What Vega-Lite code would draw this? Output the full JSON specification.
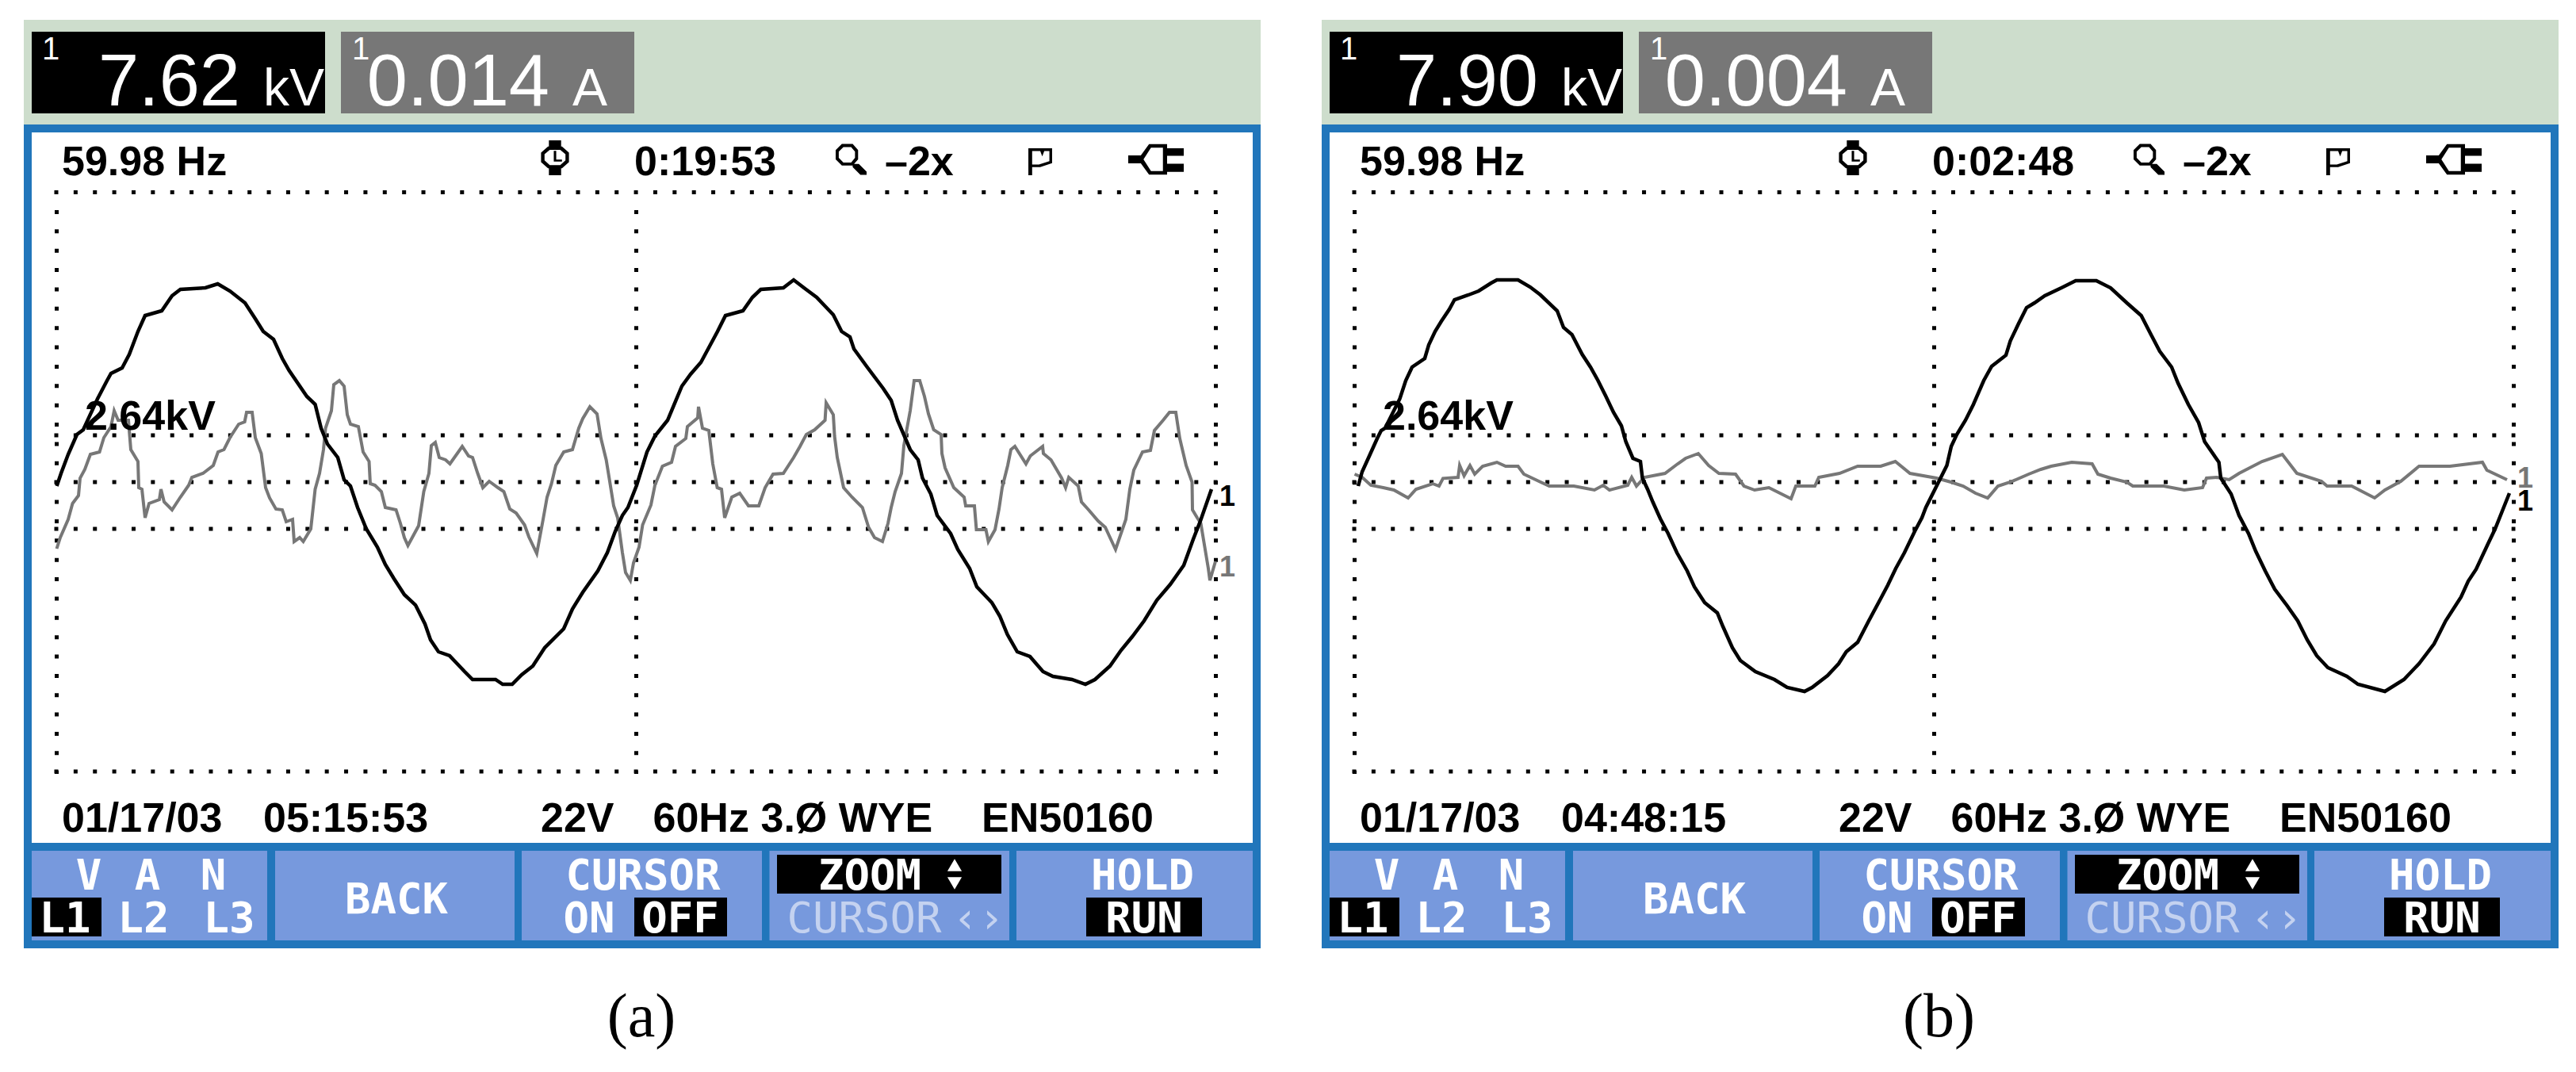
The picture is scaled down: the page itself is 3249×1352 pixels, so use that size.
{"$schema":"https://vega.github.io/schema/vega-lite/v6.json","padding":0,"background":"white","bounds":"flush","config":{"view":{"stroke":null}},
"data":{"values":[
{"panels":["a","b"],"k":"rect","part":"header","x":-41,"x1":1519,"y":583,"y1":451},
{"panels":["a","b"],"k":"rect","part":"frame","x":-41,"x1":1519,"y":451,"y1":-588},
{"panels":["a","b"],"k":"rect","part":"screen","x":-31,"x1":1509,"y":441,"y1":-455},
{"panels":["a","b"],"k":"rect","part":"black","x":-31,"x1":339,"y":568,"y1":465},
{"panels":["a","b"],"k":"rect","part":"gray","x":359,"x1":729,"y":568,"y1":465},
{"panels":["a","b"],"k":"rect","part":"button","x":-31,"x1":266,"y":-465,"y1":-578},
{"panels":["a","b"],"k":"rect","part":"button","x":276,"x1":578,"y":-465,"y1":-578},
{"panels":["a","b"],"k":"rect","part":"button","x":587,"x1":890,"y":-465,"y1":-578},
{"panels":["a","b"],"k":"rect","part":"button","x":899.5,"x1":1202,"y":-465,"y1":-578},
{"panels":["a","b"],"k":"rect","part":"button","x":1211,"x1":1509,"y":-465,"y1":-578},
{"panels":["a","b"],"k":"rect","part":"black","x":-31,"x1":57,"y":-524,"y1":-573},
{"panels":["a","b"],"k":"rect","part":"black","x":729,"x1":846,"y":-524,"y1":-573},
{"panels":["a","b"],"k":"rect","part":"black","x":1299,"x1":1445,"y":-524,"y1":-573},
{"panels":["a","b"],"k":"rect","part":"black","x":909,"x1":1192,"y":-470,"y1":-519},
{"panels":["a","b"],"k":"grid","x":-2.5,"x1":1464.5,"y":365.5,"y1":365.5},
{"panels":["a","b"],"k":"grid","x":-2.5,"x1":1464.5,"y":59,"y1":59},
{"panels":["a","b"],"k":"grid","x":-2.5,"x1":1464.5,"y":0,"y1":0},
{"panels":["a","b"],"k":"grid","x":-2.5,"x1":1464.5,"y":-59,"y1":-59},
{"panels":["a","b"],"k":"grid","x":-2.5,"x1":1464.5,"y":-365,"y1":-365},
{"panels":["a","b"],"k":"grid","x":0.5,"x1":0.5,"y":343,"y1":-368},
{"panels":["a","b"],"k":"grid","x":731.5,"x1":731.5,"y":343,"y1":-368},
{"panels":["a","b"],"k":"grid","x":1462.5,"x1":1462.5,"y":343,"y1":-368},
{"panels":["a","b"],"k":"status","x":7,"y":387,"t":"59.98 Hz"},
{"panels":["a"],"k":"status","x":729,"y":387,"t":"0:19:53"},
{"panels":["b"],"k":"status","x":729,"y":387,"t":"0:02:48"},
{"panels":["a","b"],"k":"status","x":1045,"y":387,"t":"–2x"},
{"panels":["a","b"],"k":"status","x":36,"y":66,"t":"2.64kV"},
{"panels":["a","b"],"k":"status","x":7,"y":-441,"t":"01/17/03"},
{"panels":["a"],"k":"status","x":261,"y":-441,"t":"05:15:53"},
{"panels":["b"],"k":"status","x":261,"y":-441,"t":"04:48:15"},
{"panels":["a","b"],"k":"status","x":611,"y":-441,"t":"22V"},
{"panels":["a","b"],"k":"status","x":752.5,"y":-441,"t":"60Hz"},
{"panels":["a","b"],"k":"status","x":888.5,"y":-441,"t":"3.Ø WYE"},
{"panels":["a","b"],"k":"status","x":1167,"y":-441,"t":"EN50160"},
{"panels":["a","b"],"k":"btn","x":41,"y":-514,"t":"V"},
{"panels":["a","b"],"k":"btn","x":115,"y":-514,"t":"A"},
{"panels":["a","b"],"k":"btn","x":198,"y":-514,"t":"N"},
{"panels":["a","b"],"k":"btn","x":11,"y":-568,"t":"L1"},
{"panels":["a","b"],"k":"btn","x":110,"y":-568,"t":"L2"},
{"panels":["a","b"],"k":"btn","x":218,"y":-568,"t":"L3"},
{"panels":["a","b"],"k":"btn","x":429,"y":-544,"t":"BACK"},
{"panels":["a","b"],"k":"btn","x":740,"y":-514,"t":"CURSOR"},
{"panels":["a","b"],"k":"btn","x":672,"y":-568,"t":"ON"},
{"panels":["a","b"],"k":"btn","x":787,"y":-568,"t":"OFF"},
{"panels":["a","b"],"k":"btn","x":1026,"y":-514,"t":"ZOOM"},
{"panels":["a","b"],"k":"btn","x":1370,"y":-514,"t":"HOLD"},
{"panels":["a","b"],"k":"btn","x":1372,"y":-568,"t":"RUN"},
{"panels":["a","b"],"k":"dim","x":1019,"y":-568,"t":"CURSOR"},
{"panels":["a","b"],"k":"dim","x":1163,"y":-568,"t":"‹›"},
{"panels":["a","b"],"k":"tri","sym":"up","x":1133,"y":-483},
{"panels":["a","b"],"k":"tri","sym":"down","x":1133,"y":-506},
{"panels":["a"],"k":"big","x":232,"y":475,"t":"7.62"},
{"panels":["b"],"k":"big","x":232,"y":475,"t":"7.90"},
{"panels":["a"],"k":"big","x":622,"y":475,"t":"0.014"},
{"panels":["b"],"k":"big","x":622,"y":475,"t":"0.004"},
{"panels":["a","b"],"k":"unit","x":261,"y":475,"t":"kV"},
{"panels":["a","b"],"k":"unit","x":651,"y":475,"t":"A"},
{"panels":["a","b"],"k":"idx","x":-7,"y":533,"t":"1"},
{"panels":["a","b"],"k":"idx","x":384,"y":533,"t":"1"},
{"panels":["a"],"k":"tagv","x":1477,"y":-30,"t":"1"},
{"panels":["b"],"k":"tagv","x":1477,"y":-36,"t":"1"},
{"panels":["a"],"k":"tagi","x":1477,"y":-119,"t":"1"},
{"panels":["b"],"k":"tagi","x":1477,"y":-7,"t":"1"},
{"panels":["a"],"k":"cap","x":738,"y":-699,"t":"(a)"},
{"panels":["b"],"k":"cap","x":737.5,"y":-699,"t":"(b)"},
{"panels":["a","b"],"k":"clock","x":629,"y":409},
{"panels":["a","b"],"k":"lens","x":1002.5,"y":407},
{"panels":["a","b"],"k":"flag","x":1241,"y":404},
{"panels":["a","b"],"k":"plug","x":1387,"y":407},
{"panels":["a"],"k":"v","x":0.6,"y":-5},{"panels":["a"],"k":"v","x":6,"y":11},{"panels":["a"],"k":"v","x":15,"y":35},{"panels":["a"],"k":"v","x":26,"y":60},{"panels":["a"],"k":"v","x":34,"y":66},{"panels":["a"],"k":"v","x":52,"y":105},{"panels":["a"],"k":"v","x":64,"y":128},{"panels":["a"],"k":"v","x":69,"y":137},{"panels":["a"],"k":"v","x":83,"y":144},{"panels":["a"],"k":"v","x":92,"y":161},{"panels":["a"],"k":"v","x":103,"y":190},{"panels":["a"],"k":"v","x":112,"y":210},{"panels":["a"],"k":"v","x":133,"y":216},{"panels":["a"],"k":"v","x":146,"y":235},{"panels":["a"],"k":"v","x":156.5,"y":243},{"panels":["a"],"k":"v","x":188,"y":245},{"panels":["a"],"k":"v","x":203.6,"y":250},{"panels":["a"],"k":"v","x":219,"y":241},{"panels":["a"],"k":"v","x":238,"y":226},{"panels":["a"],"k":"v","x":251,"y":206},{"panels":["a"],"k":"v","x":261,"y":190},{"panels":["a"],"k":"v","x":274,"y":180},{"panels":["a"],"k":"v","x":285,"y":156},{"panels":["a"],"k":"v","x":293.5,"y":141},{"panels":["a"],"k":"v","x":316,"y":108},{"panels":["a"],"k":"v","x":326.5,"y":98},{"panels":["a"],"k":"v","x":334,"y":68},{"panels":["a"],"k":"v","x":342,"y":48},{"panels":["a"],"k":"v","x":355,"y":31},{"panels":["a"],"k":"v","x":363,"y":3},{"panels":["a"],"k":"v","x":371,"y":-5},{"panels":["a"],"k":"v","x":380,"y":-32},{"panels":["a"],"k":"v","x":391,"y":-59},{"panels":["a"],"k":"v","x":405,"y":-82},{"panels":["a"],"k":"v","x":415,"y":-104},{"panels":["a"],"k":"v","x":426,"y":-122},{"panels":["a"],"k":"v","x":439,"y":-142},{"panels":["a"],"k":"v","x":453,"y":-155},{"panels":["a"],"k":"v","x":465,"y":-179},{"panels":["a"],"k":"v","x":472,"y":-199},{"panels":["a"],"k":"v","x":482,"y":-214},{"panels":["a"],"k":"v","x":496,"y":-219},{"panels":["a"],"k":"v","x":515,"y":-239},{"panels":["a"],"k":"v","x":525,"y":-249},{"panels":["a"],"k":"v","x":554,"y":-249},{"panels":["a"],"k":"v","x":563,"y":-255},{"panels":["a"],"k":"v","x":575,"y":-255},{"panels":["a"],"k":"v","x":587,"y":-243},{"panels":["a"],"k":"v","x":601,"y":-232},{"panels":["a"],"k":"v","x":616,"y":-209},{"panels":["a"],"k":"v","x":640,"y":-185},{"panels":["a"],"k":"v","x":651,"y":-160},{"panels":["a"],"k":"v","x":664,"y":-139},{"panels":["a"],"k":"v","x":683,"y":-112},{"panels":["a"],"k":"v","x":695,"y":-89},{"panels":["a"],"k":"v","x":705,"y":-62},{"panels":["a"],"k":"v","x":714,"y":-42},{"panels":["a"],"k":"v","x":721,"y":-32},{"panels":["a"],"k":"v","x":732,"y":-4},{"panels":["a"],"k":"v","x":745,"y":38},{"panels":["a"],"k":"v","x":755,"y":58},{"panels":["a"],"k":"v","x":771,"y":78},{"panels":["a"],"k":"v","x":789,"y":121},{"panels":["a"],"k":"v","x":800,"y":136},{"panels":["a"],"k":"v","x":813,"y":151},{"panels":["a"],"k":"v","x":834,"y":190},{"panels":["a"],"k":"v","x":844,"y":210},{"panels":["a"],"k":"v","x":866,"y":216},{"panels":["a"],"k":"v","x":878,"y":233},{"panels":["a"],"k":"v","x":888.5,"y":243},{"panels":["a"],"k":"v","x":917,"y":245},{"panels":["a"],"k":"v","x":930,"y":255},{"panels":["a"],"k":"v","x":943,"y":245},{"panels":["a"],"k":"v","x":959,"y":233},{"panels":["a"],"k":"v","x":980,"y":211},{"panels":["a"],"k":"v","x":990.5,"y":190},{"panels":["a"],"k":"v","x":1001,"y":183},{"panels":["a"],"k":"v","x":1006,"y":168},{"panels":["a"],"k":"v","x":1022,"y":146},{"panels":["a"],"k":"v","x":1043,"y":118},{"panels":["a"],"k":"v","x":1053,"y":103},{"panels":["a"],"k":"v","x":1061,"y":78},{"panels":["a"],"k":"v","x":1077,"y":41},{"panels":["a"],"k":"v","x":1087,"y":28},{"panels":["a"],"k":"v","x":1092.5,"y":5},{"panels":["a"],"k":"v","x":1103,"y":-15},{"panels":["a"],"k":"v","x":1111,"y":-42},{"panels":["a"],"k":"v","x":1128,"y":-65},{"panels":["a"],"k":"v","x":1137,"y":-85},{"panels":["a"],"k":"v","x":1152,"y":-109},{"panels":["a"],"k":"v","x":1161,"y":-132},{"panels":["a"],"k":"v","x":1180,"y":-152},{"panels":["a"],"k":"v","x":1190,"y":-169},{"panels":["a"],"k":"v","x":1199.5,"y":-192},{"panels":["a"],"k":"v","x":1212,"y":-214},{"panels":["a"],"k":"v","x":1228,"y":-220},{"panels":["a"],"k":"v","x":1244.5,"y":-239},{"panels":["a"],"k":"v","x":1257,"y":-245},{"panels":["a"],"k":"v","x":1281,"y":-249},{"panels":["a"],"k":"v","x":1298,"y":-255},{"panels":["a"],"k":"v","x":1310,"y":-249},{"panels":["a"],"k":"v","x":1329,"y":-232},{"panels":["a"],"k":"v","x":1343,"y":-212},{"panels":["a"],"k":"v","x":1357,"y":-195},{"panels":["a"],"k":"v","x":1372,"y":-175},{"panels":["a"],"k":"v","x":1388,"y":-149},{"panels":["a"],"k":"v","x":1405,"y":-129},{"panels":["a"],"k":"v","x":1422,"y":-105},{"panels":["a"],"k":"v","x":1434,"y":-72},{"panels":["a"],"k":"v","x":1443,"y":-49},{"panels":["a"],"k":"v","x":1457,"y":-9},
{"panels":["a"],"k":"i","x":0.5,"y":-84},{"panels":["a"],"k":"i","x":5,"y":-70},{"panels":["a"],"k":"i","x":15,"y":-47},{"panels":["a"],"k":"i","x":20.5,"y":-27},{"panels":["a"],"k":"i","x":28,"y":-17},{"panels":["a"],"k":"i","x":30,"y":5},{"panels":["a"],"k":"i","x":36,"y":16},{"panels":["a"],"k":"i","x":43,"y":35},{"panels":["a"],"k":"i","x":54.5,"y":38},{"panels":["a"],"k":"i","x":60,"y":56},{"panels":["a"],"k":"i","x":69,"y":70},{"panels":["a"],"k":"i","x":73,"y":90},{"panels":["a"],"k":"i","x":78,"y":78},{"panels":["a"],"k":"i","x":91,"y":78},{"panels":["a"],"k":"i","x":94,"y":41},{"panels":["a"],"k":"i","x":103,"y":26},{"panels":["a"],"k":"i","x":104,"y":-7},{"panels":["a"],"k":"i","x":108,"y":-9},{"panels":["a"],"k":"i","x":112,"y":-45},{"panels":["a"],"k":"i","x":117,"y":-27},{"panels":["a"],"k":"i","x":130,"y":-22},{"panels":["a"],"k":"i","x":132,"y":-9},{"panels":["a"],"k":"i","x":136,"y":-25},{"panels":["a"],"k":"i","x":146,"y":-35},{"panels":["a"],"k":"i","x":156.5,"y":-19},{"panels":["a"],"k":"i","x":167,"y":-4},{"panels":["a"],"k":"i","x":171,"y":6},{"panels":["a"],"k":"i","x":185,"y":11},{"panels":["a"],"k":"i","x":198,"y":21},{"panels":["a"],"k":"i","x":204,"y":38},{"panels":["a"],"k":"i","x":211.5,"y":41},{"panels":["a"],"k":"i","x":219,"y":56},{"panels":["a"],"k":"i","x":230,"y":73},{"panels":["a"],"k":"i","x":237.6,"y":76},{"panels":["a"],"k":"i","x":240,"y":88},{"panels":["a"],"k":"i","x":247,"y":88},{"panels":["a"],"k":"i","x":251,"y":56},{"panels":["a"],"k":"i","x":258.5,"y":36},{"panels":["a"],"k":"i","x":264,"y":-7},{"panels":["a"],"k":"i","x":269,"y":-20},{"panels":["a"],"k":"i","x":277,"y":-34},{"panels":["a"],"k":"i","x":285,"y":-35},{"panels":["a"],"k":"i","x":290,"y":-50},{"panels":["a"],"k":"i","x":298,"y":-47},{"panels":["a"],"k":"i","x":300,"y":-75},{"panels":["a"],"k":"i","x":307,"y":-70},{"panels":["a"],"k":"i","x":311.5,"y":-75},{"panels":["a"],"k":"i","x":321,"y":-59},{"panels":["a"],"k":"i","x":326.5,"y":-9},{"panels":["a"],"k":"i","x":332,"y":11},{"panels":["a"],"k":"i","x":337,"y":41},{"panels":["a"],"k":"i","x":339.6,"y":68},{"panels":["a"],"k":"i","x":347,"y":90},{"panels":["a"],"k":"i","x":350,"y":123},{"panels":["a"],"k":"i","x":357,"y":128},{"panels":["a"],"k":"i","x":363,"y":121},{"panels":["a"],"k":"i","x":367,"y":85},{"panels":["a"],"k":"i","x":371,"y":73},{"panels":["a"],"k":"i","x":381,"y":70},{"panels":["a"],"k":"i","x":387,"y":38},{"panels":["a"],"k":"i","x":394.5,"y":26},{"panels":["a"],"k":"i","x":396,"y":-2},{"panels":["a"],"k":"i","x":402,"y":-4},{"panels":["a"],"k":"i","x":410,"y":-12},{"panels":["a"],"k":"i","x":415,"y":-32},{"panels":["a"],"k":"i","x":428.5,"y":-35},{"panels":["a"],"k":"i","x":434,"y":-52},{"panels":["a"],"k":"i","x":439,"y":-70},{"panels":["a"],"k":"i","x":443.5,"y":-80},{"panels":["a"],"k":"i","x":457,"y":-55},{"panels":["a"],"k":"i","x":463.5,"y":-12},{"panels":["a"],"k":"i","x":470,"y":11},{"panels":["a"],"k":"i","x":473,"y":46},{"panels":["a"],"k":"i","x":478,"y":50},{"panels":["a"],"k":"i","x":483,"y":31},{"panels":["a"],"k":"i","x":491,"y":28},{"panels":["a"],"k":"i","x":496.5,"y":23},{"panels":["a"],"k":"i","x":512,"y":45},{"panels":["a"],"k":"i","x":520,"y":33},{"panels":["a"],"k":"i","x":525,"y":31},{"panels":["a"],"k":"i","x":531.5,"y":11},{"panels":["a"],"k":"i","x":538,"y":-7},{"panels":["a"],"k":"i","x":546,"y":1},{"panels":["a"],"k":"i","x":557,"y":-7},{"panels":["a"],"k":"i","x":564.5,"y":-12},{"panels":["a"],"k":"i","x":572,"y":-34},{"panels":["a"],"k":"i","x":580,"y":-39},{"panels":["a"],"k":"i","x":590.6,"y":-54},{"panels":["a"],"k":"i","x":596,"y":-69},{"panels":["a"],"k":"i","x":606,"y":-90},{"panels":["a"],"k":"i","x":614,"y":-47},{"panels":["a"],"k":"i","x":619,"y":-19},{"panels":["a"],"k":"i","x":624.6,"y":-2},{"panels":["a"],"k":"i","x":630,"y":21},{"panels":["a"],"k":"i","x":640,"y":38},{"panels":["a"],"k":"i","x":651,"y":41},{"panels":["a"],"k":"i","x":659,"y":68},{"panels":["a"],"k":"i","x":664,"y":80},{"panels":["a"],"k":"i","x":673,"y":95},{"panels":["a"],"k":"i","x":682,"y":86},{"panels":["a"],"k":"i","x":687,"y":55},{"panels":["a"],"k":"i","x":693.6,"y":28},{"panels":["a"],"k":"i","x":698,"y":1},{"panels":["a"],"k":"i","x":703,"y":-30},{"panels":["a"],"k":"i","x":708,"y":-45},{"panels":["a"],"k":"i","x":714,"y":-89},{"panels":["a"],"k":"i","x":718,"y":-114},{"panels":["a"],"k":"i","x":724,"y":-124},{"panels":["a"],"k":"i","x":728,"y":-102},{"panels":["a"],"k":"i","x":735,"y":-82},{"panels":["a"],"k":"i","x":739.5,"y":-54},{"panels":["a"],"k":"i","x":750,"y":-29},{"panels":["a"],"k":"i","x":755,"y":-4},{"panels":["a"],"k":"i","x":764.5,"y":20},{"panels":["a"],"k":"i","x":776,"y":25},{"panels":["a"],"k":"i","x":781,"y":45},{"panels":["a"],"k":"i","x":794,"y":55},{"panels":["a"],"k":"i","x":796,"y":70},{"panels":["a"],"k":"i","x":809,"y":81},{"panels":["a"],"k":"i","x":810,"y":95},{"panels":["a"],"k":"i","x":815,"y":68},{"panels":["a"],"k":"i","x":823,"y":65},{"panels":["a"],"k":"i","x":828,"y":23},{"panels":["a"],"k":"i","x":833.6,"y":-7},{"panels":["a"],"k":"i","x":839,"y":-9},{"panels":["a"],"k":"i","x":843,"y":-45},{"panels":["a"],"k":"i","x":852,"y":-19},{"panels":["a"],"k":"i","x":862,"y":-14},{"panels":["a"],"k":"i","x":873,"y":-30},{"panels":["a"],"k":"i","x":886,"y":-30},{"panels":["a"],"k":"i","x":894,"y":-7},{"panels":["a"],"k":"i","x":904,"y":10},{"panels":["a"],"k":"i","x":917,"y":11},{"panels":["a"],"k":"i","x":930,"y":31},{"panels":["a"],"k":"i","x":938,"y":45},{"panels":["a"],"k":"i","x":946,"y":60},{"panels":["a"],"k":"i","x":956.5,"y":66},{"panels":["a"],"k":"i","x":969.6,"y":78},{"panels":["a"],"k":"i","x":971,"y":100},{"panels":["a"],"k":"i","x":980,"y":85},{"panels":["a"],"k":"i","x":981.6,"y":58},{"panels":["a"],"k":"i","x":985,"y":31},{"panels":["a"],"k":"i","x":993,"y":-7},{"panels":["a"],"k":"i","x":1003.6,"y":-19},{"panels":["a"],"k":"i","x":1016.7,"y":-32},{"panels":["a"],"k":"i","x":1024.5,"y":-57},{"panels":["a"],"k":"i","x":1032,"y":-70},{"panels":["a"],"k":"i","x":1042,"y":-75},{"panels":["a"],"k":"i","x":1049,"y":-52},{"panels":["a"],"k":"i","x":1053,"y":-32},{"panels":["a"],"k":"i","x":1058,"y":-12},{"panels":["a"],"k":"i","x":1066,"y":11},{"panels":["a"],"k":"i","x":1069,"y":46},{"panels":["a"],"k":"i","x":1077,"y":90},{"panels":["a"],"k":"i","x":1082,"y":128},{"panels":["a"],"k":"i","x":1089,"y":128},{"panels":["a"],"k":"i","x":1095,"y":108},{"panels":["a"],"k":"i","x":1100,"y":86},{"panels":["a"],"k":"i","x":1106.6,"y":66},{"panels":["a"],"k":"i","x":1116,"y":60},{"panels":["a"],"k":"i","x":1117,"y":36},{"panels":["a"],"k":"i","x":1121,"y":18},{"panels":["a"],"k":"i","x":1132,"y":-7},{"panels":["a"],"k":"i","x":1145,"y":-19},{"panels":["a"],"k":"i","x":1147,"y":-30},{"panels":["a"],"k":"i","x":1158,"y":-30},{"panels":["a"],"k":"i","x":1160.5,"y":-60},{"panels":["a"],"k":"i","x":1172.5,"y":-60},{"panels":["a"],"k":"i","x":1175.6,"y":-75},{"panels":["a"],"k":"i","x":1184,"y":-60},{"panels":["a"],"k":"i","x":1189,"y":-34},{"panels":["a"],"k":"i","x":1193,"y":-7},{"panels":["a"],"k":"i","x":1200,"y":21},{"panels":["a"],"k":"i","x":1204,"y":41},{"panels":["a"],"k":"i","x":1209,"y":45},{"panels":["a"],"k":"i","x":1223,"y":23},{"panels":["a"],"k":"i","x":1228.5,"y":33},{"panels":["a"],"k":"i","x":1244,"y":45},{"panels":["a"],"k":"i","x":1245,"y":36},{"panels":["a"],"k":"i","x":1254.6,"y":28},{"panels":["a"],"k":"i","x":1268,"y":5},{"panels":["a"],"k":"i","x":1273,"y":-7},{"panels":["a"],"k":"i","x":1277,"y":6},{"panels":["a"],"k":"i","x":1289,"y":-5},{"panels":["a"],"k":"i","x":1293,"y":-25},{"panels":["a"],"k":"i","x":1302,"y":-35},{"panels":["a"],"k":"i","x":1314,"y":-49},{"panels":["a"],"k":"i","x":1323,"y":-57},{"panels":["a"],"k":"i","x":1336,"y":-85},{"panels":["a"],"k":"i","x":1349,"y":-47},{"panels":["a"],"k":"i","x":1354,"y":-9},{"panels":["a"],"k":"i","x":1359,"y":15},{"panels":["a"],"k":"i","x":1370,"y":38},{"panels":["a"],"k":"i","x":1380,"y":40},{"panels":["a"],"k":"i","x":1385,"y":65},{"panels":["a"],"k":"i","x":1396,"y":78},{"panels":["a"],"k":"i","x":1404,"y":88},{"panels":["a"],"k":"i","x":1412,"y":88},{"panels":["a"],"k":"i","x":1417,"y":55},{"panels":["a"],"k":"i","x":1425,"y":21},{"panels":["a"],"k":"i","x":1432.5,"y":0},{"panels":["a"],"k":"i","x":1433,"y":-35},{"panels":["a"],"k":"i","x":1439,"y":-45},{"panels":["a"],"k":"i","x":1443.5,"y":-52},{"panels":["a"],"k":"i","x":1453,"y":-109},{"panels":["a"],"k":"i","x":1455,"y":-124},{"panels":["a"],"k":"i","x":1462,"y":-100},
{"panels":["b"],"k":"v","x":5,"y":-5},{"panels":["b"],"k":"v","x":10,"y":13},{"panels":["b"],"k":"v","x":20,"y":35},{"panels":["b"],"k":"v","x":29,"y":55},{"panels":["b"],"k":"v","x":34,"y":65},{"panels":["b"],"k":"v","x":39,"y":68},{"panels":["b"],"k":"v","x":57.5,"y":105},{"panels":["b"],"k":"v","x":65,"y":128},{"panels":["b"],"k":"v","x":73,"y":145},{"panels":["b"],"k":"v","x":89,"y":156},{"panels":["b"],"k":"v","x":94,"y":173},{"panels":["b"],"k":"v","x":102,"y":190},{"panels":["b"],"k":"v","x":110,"y":203},{"panels":["b"],"k":"v","x":120,"y":218},{"panels":["b"],"k":"v","x":126.5,"y":230},{"panels":["b"],"k":"v","x":144,"y":236},{"panels":["b"],"k":"v","x":157,"y":241},{"panels":["b"],"k":"v","x":172.6,"y":251},{"panels":["b"],"k":"v","x":180,"y":255},{"panels":["b"],"k":"v","x":206.6,"y":255},{"panels":["b"],"k":"v","x":222,"y":246},{"panels":["b"],"k":"v","x":235,"y":236},{"panels":["b"],"k":"v","x":256,"y":216},{"panels":["b"],"k":"v","x":264,"y":195},{"panels":["b"],"k":"v","x":274.6,"y":186},{"panels":["b"],"k":"v","x":287.6,"y":161},{"panels":["b"],"k":"v","x":298,"y":145},{"panels":["b"],"k":"v","x":307.5,"y":128},{"panels":["b"],"k":"v","x":317.5,"y":108},{"panels":["b"],"k":"v","x":327,"y":88},{"panels":["b"],"k":"v","x":337,"y":71},{"panels":["b"],"k":"v","x":342.6,"y":51},{"panels":["b"],"k":"v","x":351.5,"y":30},{"panels":["b"],"k":"v","x":361,"y":26},{"panels":["b"],"k":"v","x":363.5,"y":5},{"panels":["b"],"k":"v","x":370,"y":-9},{"panels":["b"],"k":"v","x":376.6,"y":-25},{"panels":["b"],"k":"v","x":386,"y":-46},{"panels":["b"],"k":"v","x":396,"y":-65},{"panels":["b"],"k":"v","x":407,"y":-89},{"panels":["b"],"k":"v","x":420,"y":-112},{"panels":["b"],"k":"v","x":429,"y":-132},{"panels":["b"],"k":"v","x":442,"y":-152},{"panels":["b"],"k":"v","x":458,"y":-165},{"panels":["b"],"k":"v","x":465,"y":-182},{"panels":["b"],"k":"v","x":477,"y":-209},{"panels":["b"],"k":"v","x":487,"y":-225},{"panels":["b"],"k":"v","x":506,"y":-239},{"panels":["b"],"k":"v","x":530,"y":-249},{"panels":["b"],"k":"v","x":546,"y":-259},{"panels":["b"],"k":"v","x":568,"y":-264},{"panels":["b"],"k":"v","x":577.5,"y":-259},{"panels":["b"],"k":"v","x":597,"y":-244},{"panels":["b"],"k":"v","x":611,"y":-229},{"panels":["b"],"k":"v","x":620.6,"y":-214},{"panels":["b"],"k":"v","x":635,"y":-202},{"panels":["b"],"k":"v","x":649,"y":-175},{"panels":["b"],"k":"v","x":664,"y":-147},{"panels":["b"],"k":"v","x":673,"y":-130},{"panels":["b"],"k":"v","x":683,"y":-109},{"panels":["b"],"k":"v","x":694,"y":-89},{"panels":["b"],"k":"v","x":707,"y":-62},{"panels":["b"],"k":"v","x":716,"y":-45},{"panels":["b"],"k":"v","x":721,"y":-32},{"panels":["b"],"k":"v","x":735,"y":-4},{"panels":["b"],"k":"v","x":747.5,"y":21},{"panels":["b"],"k":"v","x":753,"y":45},{"panels":["b"],"k":"v","x":760,"y":60},{"panels":["b"],"k":"v","x":771,"y":78},{"panels":["b"],"k":"v","x":781,"y":98},{"panels":["b"],"k":"v","x":794,"y":128},{"panels":["b"],"k":"v","x":804,"y":146},{"panels":["b"],"k":"v","x":822,"y":160},{"panels":["b"],"k":"v","x":827.5,"y":178},{"panels":["b"],"k":"v","x":838,"y":200},{"panels":["b"],"k":"v","x":848,"y":220},{"panels":["b"],"k":"v","x":858,"y":226},{"panels":["b"],"k":"v","x":871,"y":235},{"panels":["b"],"k":"v","x":892,"y":245},{"panels":["b"],"k":"v","x":910,"y":254},{"panels":["b"],"k":"v","x":936,"y":254},{"panels":["b"],"k":"v","x":954,"y":245},{"panels":["b"],"k":"v","x":974.5,"y":226},{"panels":["b"],"k":"v","x":992.6,"y":210},{"panels":["b"],"k":"v","x":1005.5,"y":185},{"panels":["b"],"k":"v","x":1016,"y":165},{"panels":["b"],"k":"v","x":1031,"y":145},{"panels":["b"],"k":"v","x":1039,"y":125},{"panels":["b"],"k":"v","x":1052,"y":98},{"panels":["b"],"k":"v","x":1065,"y":75},{"panels":["b"],"k":"v","x":1072.6,"y":51},{"panels":["b"],"k":"v","x":1090.6,"y":25},{"panels":["b"],"k":"v","x":1093,"y":5},{"panels":["b"],"k":"v","x":1106,"y":-15},{"panels":["b"],"k":"v","x":1116,"y":-42},{"panels":["b"],"k":"v","x":1128,"y":-65},{"panels":["b"],"k":"v","x":1137,"y":-87},{"panels":["b"],"k":"v","x":1149,"y":-112},{"panels":["b"],"k":"v","x":1161,"y":-135},{"panels":["b"],"k":"v","x":1176,"y":-155},{"panels":["b"],"k":"v","x":1190,"y":-175},{"panels":["b"],"k":"v","x":1202,"y":-199},{"panels":["b"],"k":"v","x":1214,"y":-219},{"panels":["b"],"k":"v","x":1228,"y":-234},{"panels":["b"],"k":"v","x":1252,"y":-245},{"panels":["b"],"k":"v","x":1266,"y":-255},{"panels":["b"],"k":"v","x":1300,"y":-264},{"panels":["b"],"k":"v","x":1324,"y":-249},{"panels":["b"],"k":"v","x":1343,"y":-229},{"panels":["b"],"k":"v","x":1362,"y":-204},{"panels":["b"],"k":"v","x":1376.6,"y":-175},{"panels":["b"],"k":"v","x":1396,"y":-145},{"panels":["b"],"k":"v","x":1405,"y":-125},{"panels":["b"],"k":"v","x":1415,"y":-110},{"panels":["b"],"k":"v","x":1429,"y":-80},{"panels":["b"],"k":"v","x":1439,"y":-59},{"panels":["b"],"k":"v","x":1449,"y":-34},{"panels":["b"],"k":"v","x":1457,"y":-14},
{"panels":["b"],"k":"i","x":0.5,"y":10},{"panels":["b"],"k":"i","x":10,"y":6},{"panels":["b"],"k":"i","x":21,"y":-4},{"panels":["b"],"k":"i","x":36.6,"y":-7},{"panels":["b"],"k":"i","x":50,"y":-10},{"panels":["b"],"k":"i","x":68,"y":-20},{"panels":["b"],"k":"i","x":78,"y":-9},{"panels":["b"],"k":"i","x":99,"y":-2},{"panels":["b"],"k":"i","x":107,"y":-5},{"panels":["b"],"k":"i","x":112,"y":4.7},{"panels":["b"],"k":"i","x":131,"y":6},{"panels":["b"],"k":"i","x":133,"y":21},{"panels":["b"],"k":"i","x":138.6,"y":8},{"panels":["b"],"k":"i","x":146,"y":21},{"panels":["b"],"k":"i","x":152,"y":10},{"panels":["b"],"k":"i","x":162,"y":20},{"panels":["b"],"k":"i","x":180,"y":25},{"panels":["b"],"k":"i","x":191,"y":20},{"panels":["b"],"k":"i","x":206.6,"y":20},{"panels":["b"],"k":"i","x":214,"y":10},{"panels":["b"],"k":"i","x":233,"y":1},{"panels":["b"],"k":"i","x":246,"y":-5},{"panels":["b"],"k":"i","x":277,"y":-5},{"panels":["b"],"k":"i","x":303,"y":-10},{"panels":["b"],"k":"i","x":314,"y":-4},{"panels":["b"],"k":"i","x":322,"y":-10},{"panels":["b"],"k":"i","x":345,"y":-4},{"panels":["b"],"k":"i","x":350,"y":6},{"panels":["b"],"k":"i","x":356,"y":-5},{"panels":["b"],"k":"i","x":366,"y":6},{"panels":["b"],"k":"i","x":392,"y":11},{"panels":["b"],"k":"i","x":408,"y":23},{"panels":["b"],"k":"i","x":418,"y":30},{"panels":["b"],"k":"i","x":434,"y":36},{"panels":["b"],"k":"i","x":447,"y":21},{"panels":["b"],"k":"i","x":460,"y":11},{"panels":["b"],"k":"i","x":481,"y":10},{"panels":["b"],"k":"i","x":491.6,"y":-5},{"panels":["b"],"k":"i","x":505,"y":-10},{"panels":["b"],"k":"i","x":523,"y":-7},{"panels":["b"],"k":"i","x":551,"y":-21},{"panels":["b"],"k":"i","x":557,"y":-5},{"panels":["b"],"k":"i","x":581,"y":-5},{"panels":["b"],"k":"i","x":586,"y":6},{"panels":["b"],"k":"i","x":612,"y":11},{"panels":["b"],"k":"i","x":635,"y":20},{"panels":["b"],"k":"i","x":664,"y":20},{"panels":["b"],"k":"i","x":682.5,"y":26},{"panels":["b"],"k":"i","x":701,"y":11},{"panels":["b"],"k":"i","x":734.6,"y":5},{"panels":["b"],"k":"i","x":752.6,"y":0},{"panels":["b"],"k":"i","x":768,"y":-5},{"panels":["b"],"k":"i","x":783.6,"y":-14},{"panels":["b"],"k":"i","x":799,"y":-20},{"panels":["b"],"k":"i","x":812,"y":-5},{"panels":["b"],"k":"i","x":827.5,"y":0},{"panels":["b"],"k":"i","x":850.7,"y":10},{"panels":["b"],"k":"i","x":866,"y":16},{"panels":["b"],"k":"i","x":879,"y":20},{"panels":["b"],"k":"i","x":905,"y":25},{"panels":["b"],"k":"i","x":930.7,"y":23},{"panels":["b"],"k":"i","x":938,"y":10},{"panels":["b"],"k":"i","x":954,"y":5},{"panels":["b"],"k":"i","x":974.5,"y":0},{"panels":["b"],"k":"i","x":982,"y":-5},{"panels":["b"],"k":"i","x":1021,"y":-5},{"panels":["b"],"k":"i","x":1047,"y":-10},{"panels":["b"],"k":"i","x":1070,"y":-7},{"panels":["b"],"k":"i","x":1075,"y":5},{"panels":["b"],"k":"i","x":1088,"y":6},{"panels":["b"],"k":"i","x":1103.5,"y":3},{"panels":["b"],"k":"i","x":1116,"y":11},{"panels":["b"],"k":"i","x":1145,"y":26},{"panels":["b"],"k":"i","x":1170.6,"y":35},{"panels":["b"],"k":"i","x":1189,"y":11},{"panels":["b"],"k":"i","x":1220,"y":1},{"panels":["b"],"k":"i","x":1227,"y":-5},{"panels":["b"],"k":"i","x":1258,"y":-5},{"panels":["b"],"k":"i","x":1287,"y":-20},{"panels":["b"],"k":"i","x":1300,"y":-10},{"panels":["b"],"k":"i","x":1320,"y":1},{"panels":["b"],"k":"i","x":1343,"y":20},{"panels":["b"],"k":"i","x":1382,"y":20},{"panels":["b"],"k":"i","x":1423,"y":25},{"panels":["b"],"k":"i","x":1428.6,"y":15},{"panels":["b"],"k":"i","x":1454,"y":3}
]},
"transform":[{"flatten":["panels"],"as":["panel"]}],
"facet":{"column":{"field":"panel","type":"nominal","header":null}},
"spacing":25,
"spec":{"width":1612,"height":1352,
"encoding":{"x":{"field":"x","type":"quantitative","scale":{"domain":[-71,1541],"nice":false,"zero":false},"axis":null},"y":{"field":"y","type":"quantitative","scale":{"domain":[-744,608],"nice":false,"zero":false},"axis":null}},
"layer":[
{"transform":[{"filter":"datum.k=='rect'"}],"mark":{"type":"rect","stroke":null},"encoding":{"x2":{"field":"x1"},"y2":{"field":"y1"},"color":{"field":"part","type":"nominal","legend":null,"scale":{"domain":["header","frame","screen","black","gray","button"],"range":["#CDDDCC","#2176BB","#FFFFFF","#000000","#777777","#7799DD"]}}}},
{"transform":[{"filter":"datum.k=='grid'"}],"mark":{"type":"rule","color":"#000000","strokeWidth":5,"strokeDash":[5,19.37]},"encoding":{"x2":{"field":"x1"},"y2":{"field":"y1"}}},
{"transform":[{"filter":"datum.k=='i'"}],"mark":{"type":"line","color":"#777777","strokeWidth":4,"strokeJoin":"miter"},"encoding":{}},
{"transform":[{"filter":"datum.k=='v'"}],"mark":{"type":"line","color":"#000000","strokeWidth":4.5,"strokeJoin":"miter"},"encoding":{}},
{"transform":[{"filter":"datum.k=='status'"}],"mark":{"type":"text","font":"Liberation Sans","fontWeight":"bold","fontSize":52,"align":"left","baseline":"alphabetic","color":"#000000"},"encoding":{"text":{"field":"t"}}},
{"transform":[{"filter":"datum.k=='btn'"}],"mark":{"type":"text","font":"DejaVu Sans Mono","fontWeight":"bold","fontSize":54,"align":"center","baseline":"alphabetic","color":"#FFFFFF"},"encoding":{"text":{"field":"t"}}},
{"transform":[{"filter":"datum.k=='dim'"}],"mark":{"type":"text","font":"DejaVu Sans Mono","fontSize":54,"align":"center","baseline":"alphabetic","color":"#C4D2F0"},"encoding":{"text":{"field":"t"}}},
{"transform":[{"filter":"datum.k=='tri'"}],"mark":{"type":"point","filled":true,"size":330,"color":"#FFFFFF","opacity":1},"encoding":{"shape":{"field":"sym","type":"nominal","legend":null,"scale":{"domain":["up","down"],"range":["triangle-up","triangle-down"]}}}},
{"transform":[{"filter":"datum.k=='big'"}],"mark":{"type":"text","font":"Liberation Sans","fontSize":92,"align":"right","baseline":"alphabetic","color":"#FFFFFF"},"encoding":{"text":{"field":"t"}}},
{"transform":[{"filter":"datum.k=='unit'"}],"mark":{"type":"text","font":"Liberation Sans","fontSize":66,"align":"left","baseline":"alphabetic","color":"#FFFFFF"},"encoding":{"text":{"field":"t"}}},
{"transform":[{"filter":"datum.k=='idx'"}],"mark":{"type":"text","font":"Liberation Sans","fontSize":40,"align":"center","baseline":"alphabetic","color":"#FFFFFF"},"encoding":{"text":{"field":"t"}}},
{"transform":[{"filter":"datum.k=='tagv'"}],"mark":{"type":"text","font":"Liberation Sans","fontWeight":"bold","fontSize":36,"align":"center","baseline":"alphabetic","color":"#000000"},"encoding":{"text":{"field":"t"}}},
{"transform":[{"filter":"datum.k=='tagi'"}],"mark":{"type":"text","font":"Liberation Sans","fontWeight":"bold","fontSize":36,"align":"center","baseline":"alphabetic","color":"#777777"},"encoding":{"text":{"field":"t"}}},
{"transform":[{"filter":"datum.k=='cap'"}],"mark":{"type":"text","font":"Liberation Serif","fontSize":78,"align":"center","baseline":"alphabetic","color":"#000000"},"encoding":{"text":{"field":"t"}}},
{"transform":[{"filter":"datum.k=='clock'"}],"mark":{"type":"point","filled":true,"opacity":1,"color":"#000000","size":1936,"shape":"M-0.35 -1H0.35V-0.6H-0.35ZM-0.35 0.55H0.35V1H-0.35ZM-0.8 -0.3L-0.4 -0.65L0.4 -0.65L0.8 -0.3L0.8 0.25L0.4 0.6L-0.4 0.6L-0.8 0.25ZM-0.6 -0.2L-0.6 0.15L-0.3 0.42L0.3 0.42L0.6 0.15L0.6 -0.2L0.3 -0.45L-0.3 -0.45ZM-0.07 -0.4H0.07V0.1H0.4V0.22H-0.07Z"},"encoding":{}},
{"transform":[{"filter":"datum.k=='lens'"}],"mark":{"type":"point","filled":true,"opacity":1,"color":"#000000","size":1521,"shape":"M-0.6 -1L0.1 -1L0.45 -0.6L0.45 0L0.1 0.4L-0.6 0.4L-1 0L-1 -0.6ZM-0.5 -0.8L-0.8 -0.5L-0.8 -0.1L-0.5 0.2L0 0.2L0.25 -0.1L0.25 -0.5L0 -0.8ZM0.1 0.3L0.5 0.3L1 0.8L1 1L0.6 1L0.1 0.5Z"},"encoding":{}},
{"transform":[{"filter":"datum.k=='flag'"}],"mark":{"type":"point","filled":true,"opacity":1,"color":"#000000","size":1156,"shape":"M-0.88 -1H-0.6V1H-0.88ZM-0.6 -1H0.88V0.1L0 0.4H-0.6V0.2H-0.1L0.68 -0.05V-0.8H-0.6ZM0 -0.8H0.3L0.15 -0.4Z"},"encoding":{}},
{"transform":[{"filter":"datum.k=='plug'"}],"mark":{"type":"point","filled":true,"opacity":1,"color":"#000000","size":4900,"shape":"M-1 -0.14H-0.55V0.14H-1ZM-0.65 0L-0.25 -0.55H0.4V0.55H-0.25ZM-0.45 0L-0.18 0.42H0.25V-0.42H-0.18ZM0.25 -0.4H1V-0.13H0.25ZM0.25 0.16H1V0.45H0.25Z"},"encoding":{}}
]}}
